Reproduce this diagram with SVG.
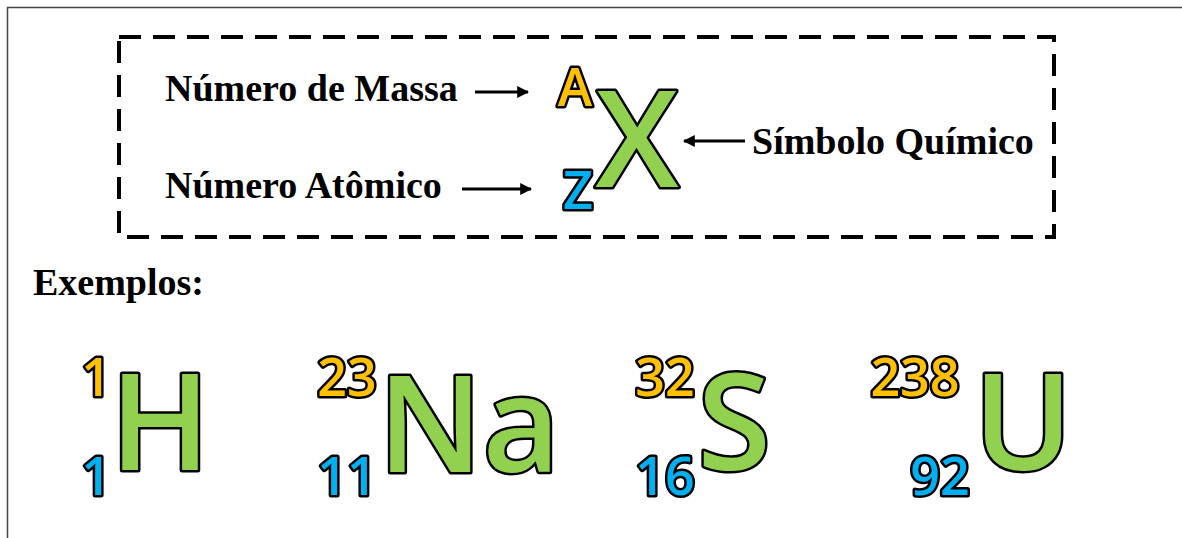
<svg xmlns="http://www.w3.org/2000/svg" width="1182" height="538" viewBox="0 0 1182 538">
<defs>
<style>
.lbl{font-family:"Liberation Serif","Times New Roman",serif;font-weight:bold;font-size:38px;fill:#000}
.sym{font-family:"Open Sans","Noto Sans",sans-serif;font-weight:600;stroke:#000;stroke-width:5;paint-order:stroke;stroke-linejoin:round}
.big{font-size:134px;fill:#92D050}
.num{font-size:52px}
.a{fill:#FFC000}
.z{fill:#00B0F0}
.arr{stroke:#000;stroke-width:3;fill:none}
</style>
<marker id="ah" viewBox="0 0 10 10" refX="9" refY="5" markerWidth="4" markerHeight="4" orient="auto" markerUnits="strokeWidth">
<path d="M0,0 L10,5 L0,10 z" fill="#000"/>
</marker>
</defs>
<rect width="1182" height="538" fill="#fff"/>
<path d="M7.5,538 V7.5 H1182" fill="none" stroke="#444" stroke-width="1.5"/>
<rect id="legend-box" x="119" y="37" width="935" height="200" fill="none" stroke="#000" stroke-width="4" stroke-dasharray="22 12"/>
<g id="legend">
<text id="massa" class="lbl" x="165" y="101">Número de Massa</text>
<text id="atomico" class="lbl" x="165" y="198">Número Atômico</text>
<text id="simbolo" class="lbl" x="752" y="154">Símbolo Químico</text>
<g id="notation">
<text class="sym num a" x="575" y="106" text-anchor="middle">A</text>
<text class="sym num z" x="578" y="209" text-anchor="middle">Z</text>
<text class="sym big" x="637" y="187" text-anchor="middle">X</text>
</g>
</g>
<g id="connectors">
<line class="arr" x1="475" y1="92" x2="528" y2="92" marker-end="url(#ah)"/>
<line class="arr" x1="462" y1="189" x2="531" y2="189" marker-end="url(#ah)"/>
<line class="arr" x1="745" y1="141" x2="684" y2="141" marker-end="url(#ah)"/>
</g>
<text id="exemplos" class="lbl" x="33" y="295">Exemplos:</text>
<g id="ex-H">
<text class="sym num a" x="96" y="396" text-anchor="middle">1</text>
<text class="sym num z" x="96" y="495" text-anchor="middle">1</text>
<text class="sym big" x="160" y="470" text-anchor="middle">H</text>
</g>
<g id="ex-Na">
<text class="sym num a" x="347" y="396" text-anchor="middle">23</text>
<text class="sym num z" x="347" y="495" text-anchor="middle">11</text>
<text class="sym big" x="469" y="472" text-anchor="middle">Na</text>
</g>
<g id="ex-S">
<text class="sym num a" x="665" y="396" text-anchor="middle">32</text>
<text class="sym num z" x="665" y="495" text-anchor="middle">16</text>
<text class="sym big" x="734" y="470" text-anchor="middle">S</text>
</g>
<g id="ex-U">
<text class="sym num a" x="915" y="396" text-anchor="middle">238</text>
<text class="sym num z" x="940" y="495" text-anchor="middle">92</text>
<text class="sym big" x="1023" y="470" text-anchor="middle">U</text>
</g>
</svg>
